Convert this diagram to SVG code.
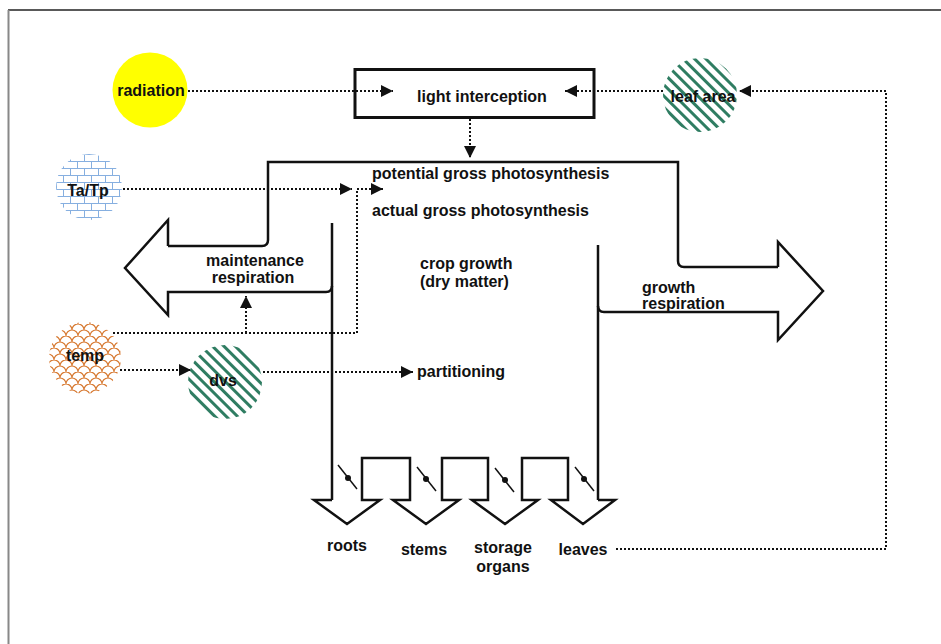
<svg xmlns="http://www.w3.org/2000/svg" width="941" height="644" viewBox="0 0 941 644">
  <defs>
    <style>
      text { font-family: "Liberation Sans", Arial, sans-serif; font-size: 16px; font-weight: bold; fill: #111; }
      .mid { text-anchor: middle; }
      .flow { fill: none; stroke: #111; stroke-width: 2.5; stroke-linejoin: miter; }
      .dot { fill: none; stroke: #111; stroke-width: 2; stroke-dasharray: 2 2; }
      .valve { stroke: #111; stroke-width: 1.5; }
    </style>
    <marker id="ah" markerUnits="userSpaceOnUse" markerWidth="13" markerHeight="12" refX="12" refY="6" orient="auto">
      <path d="M0,0 L12,6 L0,12 z" fill="#111"/>
    </marker>
    <!-- diagonal green stripes -->
    <pattern id="stripes" patternUnits="userSpaceOnUse" width="8" height="8" patternTransform="rotate(-45)">
      <rect width="8" height="8" fill="#fff"/>
      <rect width="3" height="8" fill="#2f7d62"/>
    </pattern>
    <!-- light blue brick -->
    <pattern id="brick" patternUnits="userSpaceOnUse" width="14" height="14">
      <rect width="14" height="14" fill="#fff"/>
      <path d="M0,0.5 H14 M0,7.5 H14 M0.5,0 V7.5 M7.5,7.5 V14" stroke="#86afe0" stroke-width="1" fill="none"/>
    </pattern>
    <!-- orange scales -->
    <pattern id="scales" patternUnits="userSpaceOnUse" width="12" height="12">
      <rect width="12" height="12" fill="#fff"/>
      <path d="M0,6 A6,6 0 0 1 12,6 M-6,12 A6,6 0 0 1 6,12 M6,12 A6,6 0 0 1 18,12" stroke="#d7782f" stroke-width="1.1" fill="none"/>
    </pattern>
  </defs>

  <rect width="941" height="644" fill="#fff"/>
  <!-- frame -->
  <path d="M8,10 H941" stroke="#222" stroke-width="1.5"/>
  <path d="M8.5,10 V644" stroke="#888" stroke-width="2"/>

  <!-- flow band with respiration arrows and partitioning arrows -->
  <g id="crop-flow">
    <path class="flow" d="M168,246 H262 Q268,246 268,240 V162 H678 V261 Q678,267 684,267 H778"/>
    <path class="flow" d="M168,246 V220 L125,268 L168,315 V292 H326 Q332,292 332,286"/>
    <path class="flow" d="M778,267 V242 L823,291 L778,340 V312 H604 Q598,312 598,306"/>
    <path class="flow" d="M332,223 V500"/>
    <path class="flow" d="M598,245 V500"/>
    <path class="flow" d="M332,500 H314 L347,524 L380,500 H362 V458 H410 V500 H393 L426,524 L459,500 H442 V458 H488 V500 H472 L505,524 L538,500 H522 V458 H568 V500 H551 L583,524 L615,500 H598"/>
    <g id="valves">
      <line class="valve" x1="338" y1="465" x2="357" y2="489"/>
      <circle cx="348" cy="478" r="3" fill="#111"/>
      <line class="valve" x1="417" y1="467" x2="436" y2="491"/>
      <circle cx="426" cy="479" r="3" fill="#111"/>
      <line class="valve" x1="495" y1="468" x2="514" y2="492"/>
      <circle cx="505" cy="480" r="3" fill="#111"/>
      <line class="valve" x1="575" y1="467" x2="594" y2="491"/>
      <circle cx="584" cy="479" r="3" fill="#111"/>
    </g>
  </g>

  <g id="radiation">
    <circle cx="150" cy="90" r="37.5" fill="#ffff00"/>
    <text class="mid" x="151" y="96">radiation</text>
  </g>

  <g id="light-interception">
    <rect x="355" y="69.5" width="239" height="48" fill="none" stroke="#111" stroke-width="3"/>
    <text class="mid" x="482" y="102">light interception</text>
  </g>

  <g id="leaf-area">
    <circle cx="700" cy="95" r="37" fill="url(#stripes)"/>
    <text class="mid" x="703" y="102">leaf area</text>
  </g>

  <g id="ta-tp">
    <circle cx="89" cy="187" r="33" fill="url(#brick)"/>
    <text class="mid" x="88" y="196">Ta/Tp</text>
  </g>

  <g id="temp">
    <circle cx="85" cy="358" r="36" fill="url(#scales)"/>
    <text class="mid" x="85" y="361">temp</text>
  </g>

  <g id="dvs">
    <circle cx="225" cy="382" r="37" fill="url(#stripes)"/>
    <text class="mid" x="223" y="386">dvs</text>
  </g>

  <!-- connectors drawn over the nodes so arrowheads inside the box stay visible -->
  <g id="connectors">
    <path class="dot" d="M188,91 H393" marker-end="url(#ah)"/>
    <path class="dot" d="M663,91 H565" marker-end="url(#ah)"/>
    <path class="dot" d="M616,549 H886 V91 H739" marker-end="url(#ah)"/>
    <path class="dot" d="M470,119 V158" marker-end="url(#ah)"/>
    <path class="dot" d="M123,189 H352" marker-end="url(#ah)"/>
    <path class="dot" d="M113,333 H357 V189 H383" marker-end="url(#ah)"/>
    <path class="dot" d="M246,333 V296" marker-end="url(#ah)"/>
    <path class="dot" d="M120,370 H191" marker-end="url(#ah)"/>
    <path class="dot" d="M263,372 H413" marker-end="url(#ah)"/>
  </g>

  <g id="photosynthesis">
    <text x="372" y="179">potential gross photosynthesis</text>
    <text x="372" y="216">actual gross photosynthesis</text>
  </g>

  <g id="crop-growth">
    <text x="420" y="269">crop growth</text>
    <text x="420" y="287">(dry matter)</text>
  </g>

  <g id="maintenance-respiration">
    <text class="mid" x="255" y="266">maintenance</text>
    <text class="mid" x="253" y="283">respiration</text>
  </g>

  <g id="growth-respiration">
    <text x="642" y="293">growth</text>
    <text x="642" y="309">respiration</text>
  </g>

  <g id="partitioning">
    <text x="417" y="377">partitioning</text>
  </g>

  <g id="organs">
    <text class="mid" x="347" y="551">roots</text>
    <text class="mid" x="424" y="555">stems</text>
    <text class="mid" x="503" y="553">storage</text>
    <text class="mid" x="503" y="572">organs</text>
    <text class="mid" x="583" y="555">leaves</text>
  </g>
</svg>
